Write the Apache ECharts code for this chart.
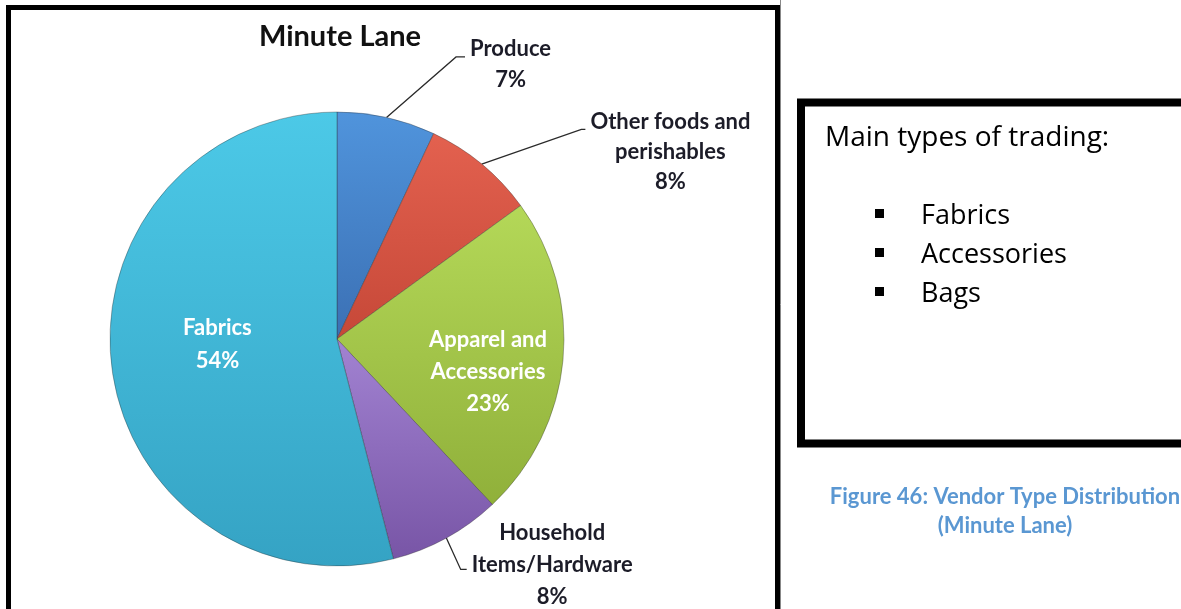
<!DOCTYPE html>
<html>
<head>
<meta charset="utf-8">
<script src="https://cdn.jsdelivr.net/npm/echarts@6/dist/echarts.min.js"></script>
<style>
  html, body { margin: 0; padding: 0; background: #fff; }
  #chart { width: 1181px; height: 609px; }
</style>
</head>
<body>
<div id="chart"></div>
<script>
// slice data, clockwise from 12 o'clock
const categories = ["Produce", "Other foods and perishables", "Apparel and Accessories", "Household Items/Hardware", "Fabrics"];
const labelLines = [["Produce"], ["Other foods and", "perishables"], ["Apparel and", "Accessories"], ["Household", "Items/Hardware"], ["Fabrics"]];
const shares = [7, 8, 23, 8, 54];
const tradingTypes = ["Fabrics", "Accessories", "Bags"];

const topColors = ["#5094dc", "#e3614f", "#b4d858", "#a283d2", "#4cc9e7"];
const bottomColors = ["#3b70b4", "#c64838", "#90b03a", "#7855a6", "#35a3c4"];
const insideLabel = [false, false, true, false, true];
// leader lines: radial part, horizontal part, short tail kept flat
const lineLen = [62, 45, 0, 36, 0];
const lineLen2 = [65, 75, 0, 3, 0];
const lineTail = [9, 4, 0, 6, 0];
const richKey = ["p", "c", "w", "w", "f"];

const chart = echarts.init(document.getElementById("chart"));

const labelFont = "Lato, 'Open Sans', sans-serif";
const boxFont = "'Open Sans', sans-serif";

let data = categories.map(function(name, i) {
  let item = {
    name: name,
    value: shares[i],
    itemStyle: {
      color: new echarts.graphic.LinearGradient(0, 0, 0, 1, [
        { offset: 0, color: topColors[i] },
        { offset: 1, color: bottomColors[i] }
      ])
    }
  };
  if (insideLabel[i]) {
    item.label = { position: "inside", color: "#fff" };
    item.labelLine = { show: false };
  } else {
    item.labelLine = { length: lineLen[i], length2: lineLen2[i] };
  }
  return item;
});

// nudges so labels sit where the original put them
const labelNudge = [
  { dx: 0, dy: 7 },
  { dx: 0, dy: 22 },
  { dx: 35, dy: 22 },
  { dx: 0, dy: -5 },
  { dx: -4, dy: -9 }
];

chart.setOption({
  animation: false,
  title: {
    text: "Minute Lane",
    left: 335,
    top: 17,
    textAlign: "center",
    textStyle: { fontFamily: labelFont, fontWeight: "bold", fontSize: 29, color: "#111" }
  },
  graphic: [
    // frame round the chart
    { type: "rect", shape: { x: 8.5, y: 7.5, width: 769, height: 700 }, style: { fill: null, stroke: "#000", lineWidth: 5 } },
    { type: "line", shape: { x1: 780.5, y1: 0, x2: 780.5, y2: 609 }, style: { stroke: "#888", lineWidth: 1 } },
    // side box
    { type: "rect", shape: { x: 801, y: 102.5, width: 420, height: 341 }, style: { fill: null, stroke: "#000", lineWidth: 8 } },
    { type: "text", x: 825, y: 138, style: { text: "Main types of trading:", font: "28px " + boxFont, fill: "#000", verticalAlign: "middle" } }
  ].concat(tradingTypes.map(function(t, i) {
    return { type: "rect", shape: { x: 875, y: 209 + i * 39, width: 9, height: 9 }, style: { fill: "#000" } };
  })).concat(tradingTypes.map(function(t, i) {
    return { type: "text", x: 921, y: 216 + i * 39, style: { text: t, font: "27px " + boxFont, fill: "#000", verticalAlign: "middle" } };
  })).concat([
    { type: "text", x: 1005, y: 497, style: { text: "Figure 46: Vendor Type Distribution", font: "bold 22px " + labelFont, fill: "#5a97d2", align: "center", verticalAlign: "middle" } },
    { type: "text", x: 1005, y: 526, style: { text: "(Minute Lane)", font: "bold 22px " + labelFont, fill: "#5a97d2", align: "center", verticalAlign: "middle" } }
  ]),
  series: [
    {
      type: "pie",
      center: [337, 339],
      radius: 227,
      startAngle: 90,
      clockwise: true,
      avoidLabelOverlap: false,
      data: data,
      itemStyle: { borderColor: "rgba(40,40,40,0.35)", borderWidth: 1 },
      label: {
        show: true,
        fontFamily: labelFont,
        fontWeight: "bold",
        fontSize: 22,
        color: "#1c1c28",
        formatter: function(p) {
          let key = richKey[p.dataIndex];
          let lines = labelLines[p.dataIndex].concat([p.value + "%"]);
          return lines.map(function(l) { return "{" + key + "|" + l + "}"; }).join("\n");
        },
        rich: {
          p: { align: "center", fontFamily: labelFont, fontWeight: "bold", fontSize: 22, lineHeight: 31 },
          c: { align: "center", fontFamily: labelFont, fontWeight: "bold", fontSize: 22, lineHeight: 30 },
          w: { align: "center", fontFamily: labelFont, fontWeight: "bold", fontSize: 22, lineHeight: 32 },
          f: { align: "center", fontFamily: labelFont, fontWeight: "bold", fontSize: 22, lineHeight: 33 }
        }
      },
      labelLine: {
        show: true,
        lineStyle: { color: "#2a2a2a", width: 1.3 }
      },
      labelLayout: function(p) {
        let i = p.dataIndex;
        let out = { dx: labelNudge[i].dx, dy: labelNudge[i].dy };
        let pts = p.labelLinePoints;
        // make the leader run straight from the slice to just short of the label, like Excel does
        if (pts && pts.length === 3 && !insideLabel[i]) {
          out.labelLinePoints = [pts[0], [pts[2][0] - lineTail[i], pts[2][1]], pts[2]];
        }
        return out;
      }
    }
  ]
});
</script>
</body>
</html>
